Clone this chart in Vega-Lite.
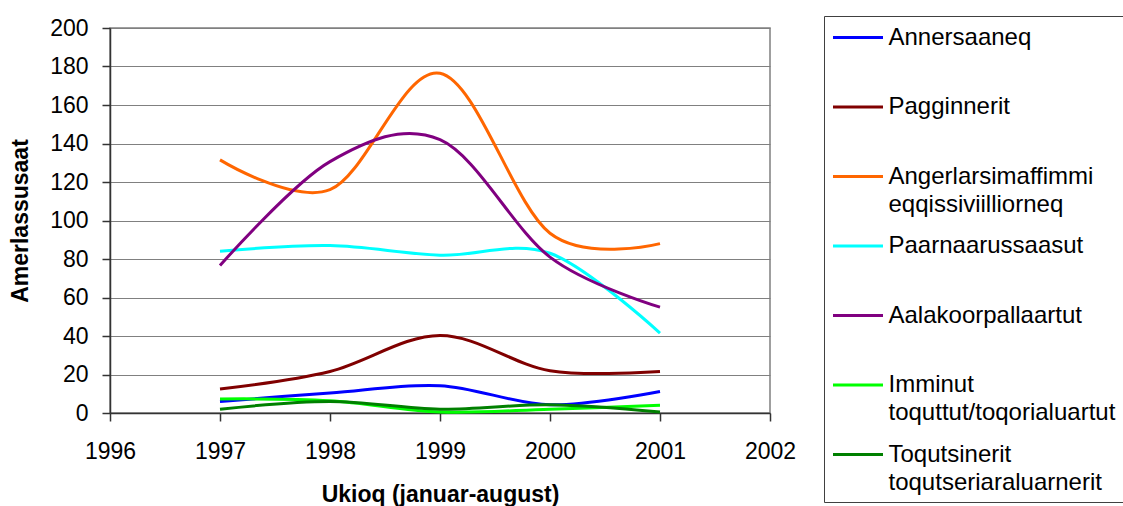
{
  "$schema": "https://vega.github.io/schema/vega-lite/v6.json",
  "width": 660,
  "height": 385,
  "autosize": "none",
  "padding": {"left": 110, "top": 28, "right": 353, "bottom": 93},
  "background": "white",
  "config": {
    "view": {"stroke": "#808080", "strokeWidth": 1.5},
    "font": "Liberation Sans"
  },
  "data": {
    "values": [
      {"year": 1997, "series": "Annersaaneq", "value": 6},
      {"year": 1998, "series": "Annersaaneq", "value": 10.4},
      {"year": 1999, "series": "Annersaaneq", "value": 14.2},
      {"year": 2000, "series": "Annersaaneq", "value": 4.3},
      {"year": 2001, "series": "Annersaaneq", "value": 11.2},
      {"year": 1997, "series": "Pagginnerit", "value": 12.5},
      {"year": 1998, "series": "Pagginnerit", "value": 21.6},
      {"year": 1999, "series": "Pagginnerit", "value": 40.3},
      {"year": 2000, "series": "Pagginnerit", "value": 22},
      {"year": 2001, "series": "Pagginnerit", "value": 21.6},
      {"year": 1997, "series": "Angerlarsimaffimmi eqqissiviilliorneq", "value": 131.5},
      {"year": 1998, "series": "Angerlarsimaffimmi eqqissiviilliorneq", "value": 116},
      {"year": 1999, "series": "Angerlarsimaffimmi eqqissiviilliorneq", "value": 176.5},
      {"year": 2000, "series": "Angerlarsimaffimmi eqqissiviilliorneq", "value": 93.4},
      {"year": 2001, "series": "Angerlarsimaffimmi eqqissiviilliorneq", "value": 88},
      {"year": 1997, "series": "Paarnaarussaasut", "value": 84},
      {"year": 1998, "series": "Paarnaarussaasut", "value": 87},
      {"year": 1999, "series": "Paarnaarussaasut", "value": 82},
      {"year": 2000, "series": "Paarnaarussaasut", "value": 83},
      {"year": 2001, "series": "Paarnaarussaasut", "value": 41.5},
      {"year": 1997, "series": "Aalakoorpallaartut", "value": 76.6},
      {"year": 1998, "series": "Aalakoorpallaartut", "value": 130.6},
      {"year": 1999, "series": "Aalakoorpallaartut", "value": 142},
      {"year": 2000, "series": "Aalakoorpallaartut", "value": 81},
      {"year": 2001, "series": "Aalakoorpallaartut", "value": 55},
      {"year": 1997, "series": "Imminut toquttut/toqorialuartut", "value": 7.3},
      {"year": 1998, "series": "Imminut toquttut/toqorialuartut", "value": 6.4},
      {"year": 1999, "series": "Imminut toquttut/toqorialuartut", "value": 0.5},
      {"year": 2000, "series": "Imminut toquttut/toqorialuartut", "value": 2},
      {"year": 2001, "series": "Imminut toquttut/toqorialuartut", "value": 4},
      {"year": 1997, "series": "Toqutsinerit toqutseriaraluarnerit", "value": 2},
      {"year": 1998, "series": "Toqutsinerit toqutseriaraluarnerit", "value": 6},
      {"year": 1999, "series": "Toqutsinerit toqutseriaraluarnerit", "value": 2},
      {"year": 2000, "series": "Toqutsinerit toqutseriaraluarnerit", "value": 4.3},
      {"year": 2001, "series": "Toqutsinerit toqutseriaraluarnerit", "value": 0.5}
    ]
  },
  "mark": {"type": "line", "interpolate": "cardinal", "tension": 0, "strokeWidth": 3},
  "encoding": {
    "x": {
      "field": "year",
      "type": "quantitative",
      "scale": {"domain": [1996, 2002], "nice": false, "zero": false},
      "axis": {
        "title": "Ukioq (januar-august)",
        "values": [1996, 1997, 1998, 1999, 2000, 2001, 2002],
        "format": "d",
        "grid": false,
        "tickSize": 8,
        "tickColor": "#333333",
        "tickWidth": 1.5,
        "domainColor": "#333333",
        "domainWidth": 1.5,
        "labelFontSize": 23,
        "labelColor": "#000000",
        "labelPadding": 19,
        "labelFlush": false,
        "titleFontSize": 23,
        "titleFontWeight": "bold",
        "titleColor": "#000000",
        "titlePadding": 20
      }
    },
    "y": {
      "field": "value",
      "type": "quantitative",
      "scale": {"domain": [0, 200], "nice": false},
      "axis": {
        "title": "Amerlassusaat",
        "values": [0, 20, 40, 60, 80, 100, 120, 140, 160, 180, 200],
        "grid": true,
        "gridColor": "#808080",
        "gridWidth": 1.2,
        "tickSize": 8,
        "tickColor": "#333333",
        "tickWidth": 1.5,
        "domainColor": "#333333",
        "domainWidth": 1.5,
        "labelFontSize": 23,
        "labelColor": "#000000",
        "labelPadding": 14,
        "titleFontSize": 23,
        "titleFontWeight": "bold",
        "titleColor": "#000000",
        "titlePadding": 17
      }
    },
    "color": {
      "field": "series",
      "type": "nominal",
      "scale": {
        "domain": ["Annersaaneq", "Pagginnerit", "Angerlarsimaffimmi eqqissiviilliorneq", "Paarnaarussaasut", "Aalakoorpallaartut", "Imminut toquttut/toqorialuartut", "Toqutsinerit toqutseriaraluarnerit"],
        "range": ["#0000FF", "#800000", "#FF6600", "#00FFFF", "#800080", "#00FF00", "#008000"]
      },
      "legend": {
        "title": null,
        "orient": "none",
        "legendX": 714,
        "legendY": -12,
        "direction": "vertical",
        "strokeColor": "#404040",
        "fillColor": "white",
        "padding": 7.5,
        "symbolType": "M-2,0H2",
        "symbolSize": 625,
        "symbolStrokeWidth": 3,
        "symbolOffset": 12.5,
        "labelOffset": 16.5,
        "labelFontSize": 24,
        "labelColor": "#000000",
        "labelLimit": 400,
        "labelBaseline": "line-top",
        "rowPadding": 15.5,
        "labelExpr": "indexof(datum.label, ' ') < 0 ? [datum.label, ''] : split(datum.label, ' ')",
        "encode": {
          "labels": {"update": {"lineHeight": {"value": 28}, "dy": {"value": -14}}}
        }
      }
    }
  }
}
